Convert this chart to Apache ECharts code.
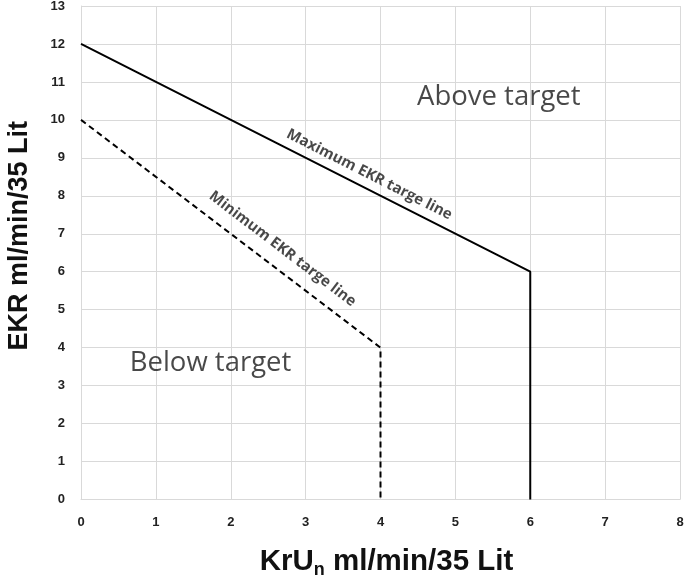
<!DOCTYPE html>
<html><head><meta charset="utf-8">
<script src="https://cdn.jsdelivr.net/npm/echarts@6/dist/echarts.min.js"></script>
<style>html,body{margin:0;padding:0;background:#fff}#c{width:685px;height:580px}</style>
</head><body><div id="c"></div>
<script>
var maxLineX = [0, 6, 6];
var maxLineY = [12, 6, 0];
var minLineX = [0, 4, 4];
var minLineY = [10, 4, 0];
var xTicks = [0, 1, 2, 3, 4, 5, 6, 7, 8];
var yTicks = [0, 1, 2, 3, 4, 5, 6, 7, 8, 9, 10, 11, 12, 13];
var regionLabels = ['Above target', 'Below target'];
var regionX = [5.58, 1.73];
var regionY = [10.6, 3.6];
var lineLabels = ['Maximum EKR targe line', 'Minimum EKR targe line'];
var lineLabelX = [3.85, 2.69];
var lineLabelY = [8.56, 6.6];

var chart = echarts.init(document.getElementById('c'));
function zip(a, b) { return a.map(function (v, i) { return [v, b[i]]; }); }
function angle(xs, ys) {
  var p0 = chart.convertToPixel({gridIndex: 0}, [xs[0], ys[0]]);
  var p1 = chart.convertToPixel({gridIndex: 0}, [xs[1], ys[1]]);
  return -Math.atan2(p1[1] - p0[1], p1[0] - p0[0]) * 180 / Math.PI;
}
var base = {
  animation: false,
  grid: {left: 81, right: 5, top: 6, bottom: 80.5, containLabel: false, outerBoundsMode: 'none'},
  xAxis: {
    type: 'value', min: xTicks[0], max: xTicks[xTicks.length - 1], interval: 1,
    axisLine: {lineStyle: {color: '#d9d9d9', width: 1}},
    axisTick: {show: false},
    splitLine: {lineStyle: {color: '#d9d9d9'}},
    axisLabel: {fontFamily: 'Liberation Sans', fontWeight: 'bold', fontSize: 13, color: '#222', margin: 16},
    name: '{a|KrU}{s|n}{a| ml/min/35 Lit}', nameLocation: 'middle', nameGap: 45,
    nameTextStyle: {padding: [0, 0, 0, 12], rich: {
      a: {fontFamily: 'Liberation Sans', fontWeight: 'bold', fontSize: 29.5, color: '#111'},
      s: {fontFamily: 'Liberation Sans', fontWeight: 'bold', fontSize: 18, color: '#111', verticalAlign: 'bottom', padding: [17, 0, 0, 0]}
    }}
  },
  yAxis: {
    type: 'value', min: yTicks[0], max: yTicks[yTicks.length - 1], interval: 1,
    axisLine: {show: true, lineStyle: {color: '#d9d9d9', width: 1}},
    axisTick: {show: false},
    splitLine: {lineStyle: {color: '#d9d9d9'}},
    axisLabel: {fontFamily: 'Liberation Sans', fontWeight: 'bold', fontSize: 13, color: '#222', margin: 16},
    name: 'EKR ml/min/35 Lit', nameLocation: 'middle', nameGap: 48,
    nameTextStyle: {fontFamily: 'Liberation Sans', fontWeight: 'bold', fontSize: 27, color: '#111', padding: [0, 0, 0, 34]}
  },
  series: [
    {type: 'line', data: zip(maxLineX, maxLineY), symbol: 'none', lineStyle: {color: '#000', width: 2}},
    {type: 'line', data: zip(minLineX, minLineY), symbol: 'none', lineStyle: {color: '#000', width: 2, type: [6, 4]}}
  ]
};
chart.setOption(base);
var angs = [angle(maxLineX, maxLineY), angle(minLineX, minLineY)];
var textSeries = [];
regionLabels.forEach(function (t, i) {
  textSeries.push({type: 'scatter', symbolSize: 0, silent: true, data: [[regionX[i], regionY[i]]],
    label: {show: true, position: 'inside', formatter: t, fontFamily: 'Open Sans', fontSize: 27.5, color: '#1a1a1a'}});
});
lineLabels.forEach(function (t, i) {
  textSeries.push({type: 'scatter', symbolSize: 0, silent: true, data: [[lineLabelX[i], lineLabelY[i]]],
    label: {show: true, position: 'inside', rotate: angs[i], formatter: t, fontFamily: 'Open Sans', fontWeight: 'bold', fontSize: 15, color: '#1a1a1a'}});
});
chart.setOption({series: base.series.concat(textSeries)});
</script></body></html>
